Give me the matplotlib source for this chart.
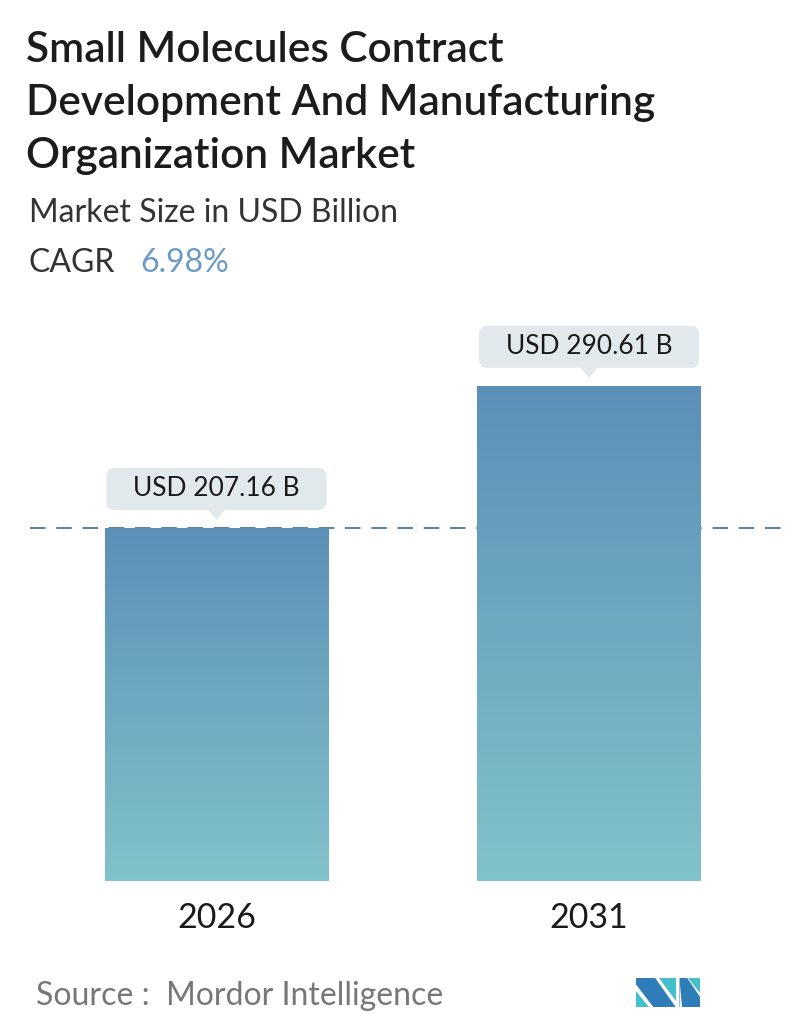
import numpy as np
import matplotlib
matplotlib.use("Agg")
import matplotlib.pyplot as plt
from matplotlib.patches import FancyBboxPatch, Polygon
from matplotlib.colors import LinearSegmentedColormap

# ---- data ----
years = ["2026", "2031"]
values = [207.16, 290.61]
value_labels = ["USD 207.16 B", "USD 290.61 B"]
cagr_text = "6.98%"
title_lines = ["Small Molecules Contract",
               "Development And Manufacturing",
               "Organization Market"]
subtitle = "Market Size in USD Billion"
source = "Source :  Mordor Intelligence"

W, H = 796, 1034
DPI = 100
FONT = "Lato"
plt.rcParams["font.family"] = [FONT, "DejaVu Sans"]

fig = plt.figure(figsize=(W / DPI, H / DPI), dpi=DPI)
fig.patch.set_facecolor("white")


def fx(x):
    return x / W


def fy(y_top):
    return 1 - y_top / H


# ---- header ----
for i, line in enumerate(title_lines):
    fig.text(fx(26), fy(62 + i * 53), line, fontsize=30.5, fontweight="semibold",
             color="#1c1c1c", ha="left", va="baseline")
fig.text(fx(29), fy(222), subtitle, fontsize=23, color="#333333",
         ha="left", va="baseline")
fig.text(fx(29), fy(272), "CAGR", fontsize=23, color="#333333",
         ha="left", va="baseline")
fig.text(fx(140), fy(272), cagr_text, fontsize=23, color="#6a9bc6",
         ha="left", va="baseline")

# ---- chart axes ----
ax_left, ax_right = 30, 782
ax_top, ax_bottom = 300, 881
ax = fig.add_axes([fx(ax_left), fy(ax_bottom), fx(ax_right - ax_left),
                   (ax_bottom - ax_top) / H])
ax.set_facecolor("none")
px_per_unit = (881 - 528) / values[0]
ax.set_ylim(0, (ax_bottom - ax_top) / px_per_unit)
ax.set_xlim(-0.5006, 1.518)
for s in ax.spines.values():
    s.set_visible(False)
ax.set_yticks([])
x = np.arange(len(years))
ax.set_xticks(x)
ax.set_xticklabels(years, fontsize=24.5, color="#1a1a1a")
ax.tick_params(axis="x", length=0, pad=15)

bar_w = 0.6
cmap = LinearSegmentedColormap.from_list("bar", ["#81c3ca", "#5c8fb8"])
grad = np.linspace(0, 1, 256).reshape(-1, 1)
bars = ax.bar(x, values, width=bar_w, color="none", edgecolor="none", zorder=2)
for b in bars:
    x0, y0 = b.get_x(), b.get_y()
    im = ax.imshow(grad, cmap=cmap, origin="lower", aspect="auto",
                   extent=[x0, x0 + b.get_width(), y0, y0 + b.get_height()],
                   zorder=2)
    im.set_clip_path(b)

# reference line at the first bar's value
ax.axhline(values[0], color="#5a80a8", lw=1.4, ls=(0, (8, 5.5)), zorder=1)

# ---- value callouts ----
fig.canvas.draw()
trans = ax.transData
for xi, v, lab in zip(x, values, value_labels):
    cx, top = trans.transform((xi, v))
    tip_y = top + 8
    box_h, box_w = 42, 220
    box_y = tip_y + 10
    box = FancyBboxPatch((cx - box_w / 2 + 4, box_y + 4), box_w - 8, box_h - 8,
                         boxstyle="round,pad=4,rounding_size=8",
                         transform=None, facecolor="#e2e9ed", edgecolor="none",
                         zorder=5)
    fig.patches.append(box)
    tri = Polygon([(cx - 9, box_y + 0.5), (cx + 9, box_y + 0.5), (cx, tip_y)],
                  closed=True, transform=None, facecolor="#e2e9ed",
                  edgecolor="none", zorder=5)
    fig.patches.append(tri)
    fig.text(cx / W, (box_y + box_h / 2) / H, lab, fontsize=19, color="#1a1a1a",
             ha="center", va="center", zorder=6)

# ---- footer ----
fig.text(fx(36), fy(1005), source, fontsize=23, color="#777777",
         ha="left", va="baseline")

# logo
lx0, ly0, lw, lh = 636, 978, 64, 29
def lp(pts):
    return [(fx(lx0 + u * lw), fy(ly0 + (1 - v) * lh)) for u, v in pts]

dark, teal = "#2f7db8", "#43c0cc"
logo_shapes = [
    ([(0, 0), (0, 0.55), (0.2, 0)], teal),
    ([(0, 1), (0.3, 1), (0.62, 0), (0.27, 0), (0, 0.78)], dark),
    ([(0.36, 1), (0.62, 1), (0.62, 0.22)], teal),
    ([(0.68, 1), (0.8, 1), (1.0, 0.35), (1.0, 0), (0.68, 0)], dark),
    ([(0.82, 1), (1.0, 1), (1.0, 0.48)], teal),
    ([(0.68, 0.75), (0.68, 0.0), (0.72, 0.0)], "white"),
]
for pts, col in logo_shapes:
    fig.patches.append(Polygon(lp(pts), closed=True, transform=fig.transFigure,
                               facecolor=col, edgecolor="none"))

fig.savefig("out.png", dpi=DPI, facecolor="white")
